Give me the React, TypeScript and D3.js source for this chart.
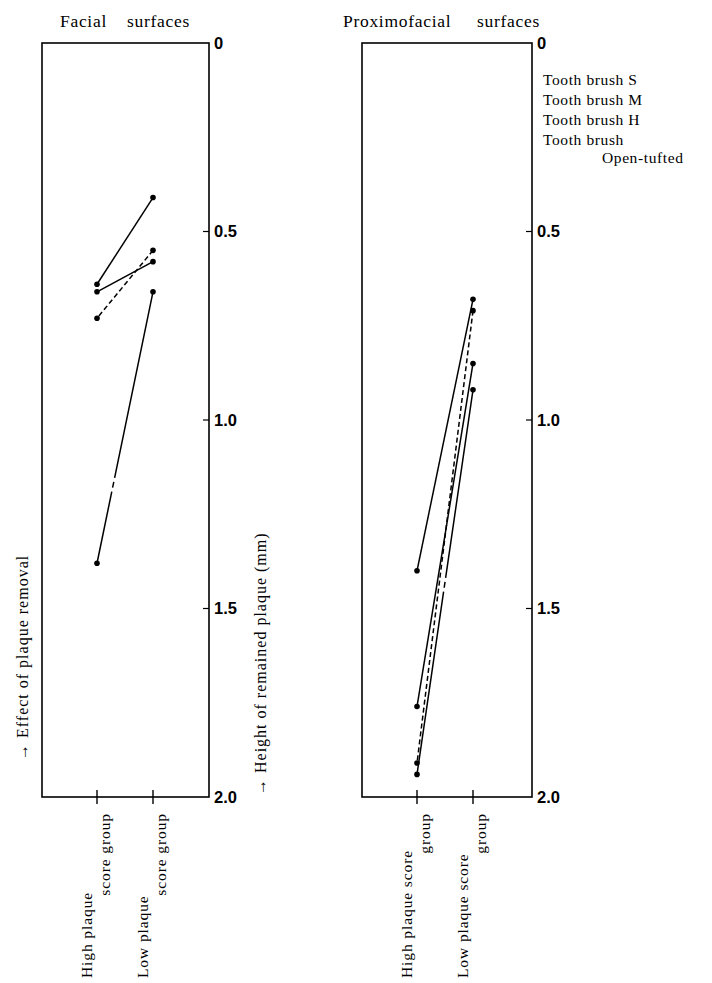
import React from 'react';
import * as d3 from 'd3';

// tooth brush types, in legend order
const brushes = ['Tooth brush S', 'Tooth brush M', 'Tooth brush H', 'Tooth brush Open-tufted'];
const groups = ['High', 'Low'];

// height of remained plaque (mm)
const facialHigh = [0.64, 0.73, 0.66, 1.38];
const facialLow = [0.41, 0.55, 0.58, 0.66];
const proxHigh = [1.4, 1.91, 1.76, 1.94];
const proxLow = [0.68, 0.71, 0.85, 0.92];

const yTicks = [0, 0.5, 1.0, 1.5, 2.0];
const yTickLabels = ['0', '0.5', '1.0', '1.5', '2.0'];

const facialGroupLabels = [['High plaque', 'score group'], ['Low plaque', 'score group']];
const proxGroupLabels = [['High plaque score', 'group'], ['Low plaque score', 'group']];

// line style for each brush
const dashes = ['none', '5,3', 'none', '190,4,6,4'];

const serif = '"Liberation Serif", "DejaVu Serif", serif';
const sans = '"Liberation Sans", Arial, sans-serif';

const W = 712;
const H = 983;
const top = 43;
const bottom = 797;

const y = d3.scaleLinear().domain([0, 2]).range([top, bottom]);

interface PanelProps {
  left: number;
  right: number;
  title: [string, string];
  titleX: [number, number];
  high: number[];
  low: number[];
  groupLabels: string[][];
}

const Panel: React.FC<PanelProps> = ({ left, right, title, titleX, high, low, groupLabels }) => {
  const x = d3.scalePoint<string>().domain(groups).range([left + 55, left + 111]);
  const line = d3.line<[number, number]>();

  return (
    <g>
      {title.map((t, i) => (
        <text key={t} x={titleX[i]} y={27} fontFamily={serif} fontSize={17.5} letterSpacing={0.7}>
          {t}
        </text>
      ))}
      <rect x={left} y={top} width={right - left} height={bottom - top} fill="none" stroke="#000" strokeWidth={1.6} />
      {yTicks.map((t, i) => (
        <g key={t}>
          {i > 0 && i < yTicks.length - 1 && (
            <line x1={right - 6} x2={right} y1={y(t)} y2={y(t)} stroke="#000" strokeWidth={1.2} />
          )}
          <text x={right + 5} y={y(t)} dy="0.36em" fontFamily={sans} fontWeight="bold" fontSize={16.5}>
            {yTickLabels[i]}
          </text>
        </g>
      ))}
      {groups.map((g, gi) => (
        <g key={g}>
          <line x1={x(g)} x2={x(g)} y1={bottom - 7} y2={bottom + 7} stroke="#000" strokeWidth={1.4} />
          <text
            transform={`translate(${(x(g) as number) - 5},978) rotate(-90)`}
            fontFamily={serif}
            fontSize={15.5}
            letterSpacing={0.9}
            textAnchor="start"
          >
            {groupLabels[gi][0]}
          </text>
          <text
            transform={`translate(${(x(g) as number) + 13},813) rotate(-90)`}
            fontFamily={serif}
            fontSize={15.5}
            letterSpacing={0.9}
            textAnchor="end"
          >
            {groupLabels[gi][1]}
          </text>
        </g>
      ))}
      {brushes.map((b, i) => {
        const pts: [number, number][] = [
          [x('Low') as number, y(low[i])],
          [x('High') as number, y(high[i])],
        ];
        return (
          <g key={b}>
            <path d={line(pts) || ''} fill="none" stroke="#000" strokeWidth={1.5} strokeDasharray={dashes[i]} />
            {pts.map((p, j) => (
              <circle key={j} cx={p[0]} cy={p[1]} r={2.8} fill="#000" />
            ))}
          </g>
        );
      })}
    </g>
  );
};

const App: React.FC = () => {
  return (
    <svg width={W} height={H} style={{ position: 'absolute', left: 0, top: 0, background: '#fff' }}>
      <Panel
        left={42}
        right={209}
        title={['Facial', 'surfaces']}
        titleX={[60, 127]}
        high={facialHigh}
        low={facialLow}
        groupLabels={facialGroupLabels}
      />
      <Panel
        left={362}
        right={532}
        title={['Proximofacial', 'surfaces']}
        titleX={[343, 477]}
        high={proxHigh}
        low={proxLow}
        groupLabels={proxGroupLabels}
      />

      <text transform="translate(28,760) rotate(-90)" fontFamily={serif} fontSize={16} letterSpacing={1}>
        → Effect of plaque removal
      </text>
      <text transform="translate(266,795) rotate(-90)" fontFamily={serif} fontSize={16} letterSpacing={1}>
        → Height of remained plaque (mm)
      </text>

      {brushes.map((b, i) => {
        const parts = b.split(' ');
        const extra = parts.length > 2 && parts[2].length > 1 ? parts.slice(2).join(' ') : null;
        return (
          <g key={b}>
            <text x={543} y={85 + i * 20} fontFamily={serif} fontSize={15.5} letterSpacing={0.6}>
              {extra ? parts.slice(0, 2).join(' ') : b}
            </text>
            {extra && (
              <text x={602} y={85 + i * 20 + 18} fontFamily={serif} fontSize={15.5} letterSpacing={0.6}>
                {extra}
              </text>
            )}
          </g>
        );
      })}
    </svg>
  );
};

export default App;
